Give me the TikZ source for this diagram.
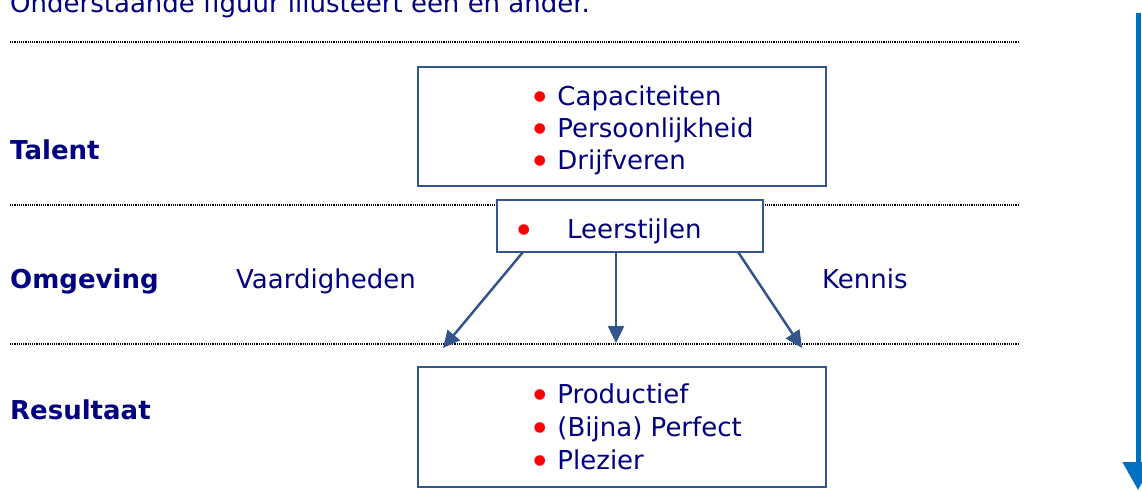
\documentclass[tikz,border=0pt]{standalone}
\usepackage{fontspec}
\setmainfont{DejaVu Sans}
\usepackage{tikz}
\usetikzlibrary{positioning,calc,arrows.meta}

\definecolor{navytext}{RGB}{0,0,128}
\definecolor{boxline}{RGB}{50,85,140}
\definecolor{sidearrow}{RGB}{0,112,192}

\begin{document}
\begin{tikzpicture}[x=1pt,y=-1pt,
    every node/.style={font=\fontsize{26}{32}\selectfont, text=navytext, inner sep=0pt}]
            \tikzstyle{frame}=[draw=boxline, line width=1.5pt, rectangle, outer sep=0pt]
            \tikzstyle{rowlabel}=[anchor=base west, font=\fontsize{26}{32}\selectfont\bfseries]
            \tikzstyle{flow}=[draw=boxline, line width=2.5pt,
            -{Triangle[length=17pt,width=16pt]}]
            \tikzstyle{sep}=[line width=1.1pt, dash pattern=on 1.1pt off 1.1pt]
            \newcommand{\rdot}{\makebox[17pt]{\raisebox{-0.2em}{\scalebox{1.4}{\color{red}•}}}}
            \clip (0,0) rectangle (1142,492);
            \node[anchor=base west] (intro) at (10,13) {Onderstaande figuur illusteert een en ander.};
            % scheidingslijnen
            \draw[sep] (10,42) -- (1018,42);
            \draw[sep] (10,205) -- (1018,205);
            \draw[sep] (10,344) -- (1018,344);
            % rijen
            \node[rowlabel] (talent) at (10,159) {Talent};
            \node[rowlabel] (omgeving) at (10,288) {Omgeving};
            \node[rowlabel] (resultaat) at (10,419) {Resultaat};
            % talent
            \node[frame, minimum width=408pt, minimum height=119pt] (talentbox) at (622,126.5) {};
            \node[anchor=west, align=left] (talentlist) at (532,130)
            {\rdot\ Capaciteiten\\ \rdot\ Persoonlijkheid\\ \rdot\ Drijfveren};
            % omgeving
            \node[frame, fill=white, minimum width=266pt, minimum height=52pt,
            text width=228pt, text height=24pt, text depth=0pt, align=left] (leer) at (630,226)
            {\rdot\hspace{34pt}Leerstijlen};
            \node[anchor=base west] (vaard) at (236,288) {Vaardigheden};
            \node[anchor=base west] (kennis) at (822,288) {Kennis};
            % resultaat
            \node[frame, minimum width=408pt, minimum height=120pt] (resbox) at (622,427) {};
            \node[anchor=west, align=left, font=\fontsize{26}{33}\selectfont] (reslist) at (532,429)
            {\rdot\ Productief\\ \rdot\ (Bijna) Perfect\\ \rdot\ Plezier};
            % pijlen
            \path (leer.south west) ++(26,0) coordinate (s1);
            \path (leer.south west) ++(119,0) coordinate (s2);
            \path (leer.south west) ++(241,0) coordinate (s3);
            \coordinate (e1) at (443,348);
            \coordinate (e2) at (616,343);
            \coordinate (e3) at (802,348);
            \path
            (s1) edge [flow] (e1)
            (s2) edge [flow] (e2)
            (s3) edge [flow] (e3);
            % zijpijl
            \coordinate (top) at (1138,13);
            \coordinate (bottom) at (1138,490);
            \draw[sidearrow, line width=5pt, -{Triangle[length=28pt,width=30pt]}] (top) -- (bottom);
        \end{tikzpicture}
\end{document}
